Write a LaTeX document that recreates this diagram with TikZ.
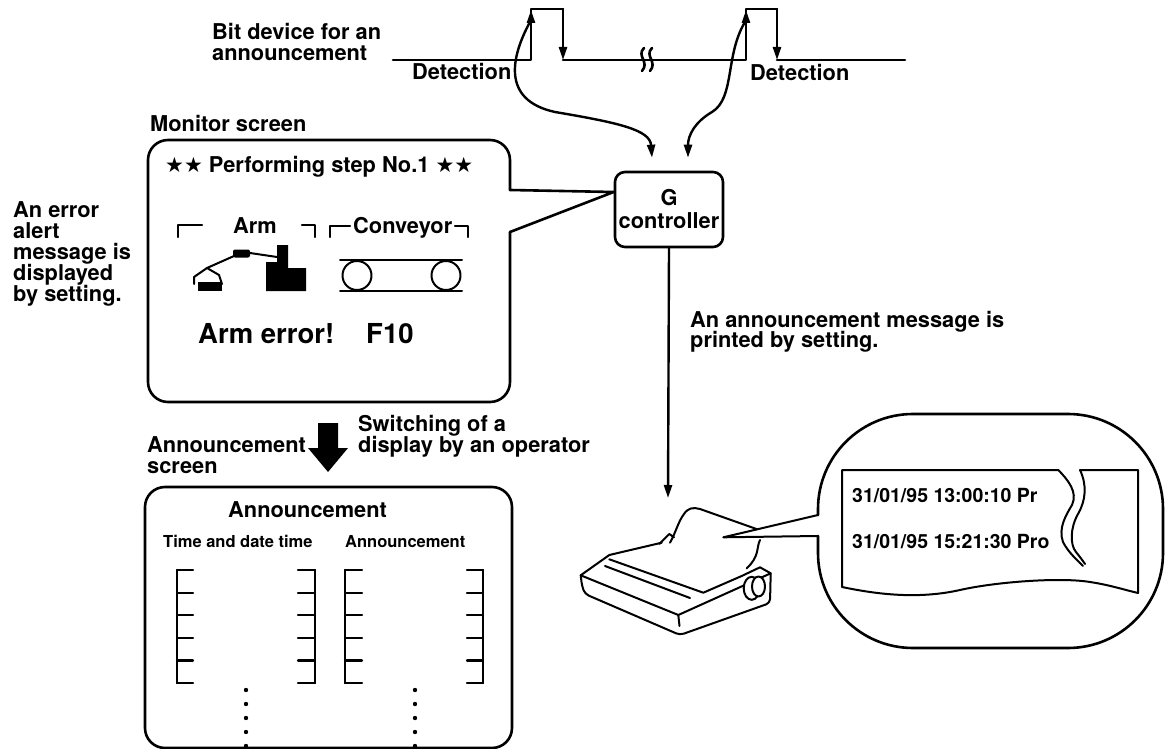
\documentclass[tikz,border=0pt]{standalone}
\usepackage{fontspec}
\setmainfont{TeX Gyre Heros}
\newfontfamily\starfont{DejaVu Sans}
\usetikzlibrary{arrows.meta,calc}
\newcommand\lblfont{\fontsize{21.8}{23}\selectfont\bfseries}
\newcommand\bigfont{\fontsize{27.5}{28}\selectfont\bfseries}
\newcommand\smallfont{\fontsize{16.5}{17}\selectfont\bfseries}
\newcommand\paperfont{\fontsize{19.5}{20}\selectfont\bfseries}
\newcommand\twostars{{\starfont\fontsize{21}{21}\selectfont ★★}}

\begin{document}
\begin{tikzpicture}[x=1pt,y=-1pt,line join=round,line cap=round,
  txt/.style={anchor=base west,inner sep=0pt,font=\lblfont},
  outline/.style={line width=2.6pt},
  thinline/.style={line width=2pt},
  arr/.style={-{Triangle[length=13pt,width=8pt]},line width=2.4pt},
  bracket/.style={line width=2.2pt},
  ]
\path[use as bounding box] (0,0) rectangle (1165,749);

% ---------- bit device timing line ----------
\node[txt] (bitA) at (212,40) {Bit device for an};
\node[txt] (bitB) at (212,61) {announcement};
\draw[outline] (393,60) -- (531,60) -- (531,9) -- (563,9);
\draw[arr] (531,45) -- (531,10);
\draw[arr] (563,9) -- (563,60);
\draw[outline] (563,60) -- (746,60) -- (746,9) -- (777,9);
\draw[arr] (746,45) -- (746,10);
\draw[arr] (777,9) -- (777,60);
\draw[outline] (777,60) -- (905,60);
% break mark
\draw[outline] (644,48) .. controls (636,56) and (650,62) .. (642,71);
\draw[outline] (652,48) .. controls (644,56) and (658,62) .. (650,71);
\node[txt] (det1) at (412,80) {Detection};
\node[txt] (det2) at (750,81) {Detection};

% ---------- G controller ----------
\node[draw,outline,rounded corners=10pt,minimum width=108pt,minimum height=75pt,
      inner sep=0pt,align=center,font=\lblfont] (gc) at (669,209.5) {G\\controller};
\coordinate (g1) at ($(gc.north)+(-17,-13)$);
\coordinate (g2) at ($(gc.north)+(19,-13)$);
\coordinate (e1) at (530,22);
\coordinate (e2) at (745,22);
\draw[arr] (e1) .. controls (512,55) and (500,100) .. (555,112)
               .. controls (620,123) and (650,130) .. (g1);
\draw[arr] (e2) .. controls (725,55) and (735,98) .. (712,112)
               .. controls (695,122) and (688,135) .. (g2);

% ---------- monitor screen ----------
\node[txt] (monlbl) at (150,132) {Monitor screen};
\coordinate (mt1) at (510,190);
\coordinate (mt2) at (510,232);
\coordinate (gin) at ($(gc.west)+(0,-17.5)$);
\draw[outline,rounded corners=20pt] (mt2) -- (510,402) -- (148,402) -- (148,140) -- (510,140) -- (mt1);
\draw[outline] (mt1) -- (gin) -- (mt2);
\node[txt] (title) at (165,173) {\twostars{} Performing step No.1 \twostars};

% arm and conveyor headings
\draw[bracket] (178,237) -- (178,225) -- (202,225);
\node[txt] (armlbl) at (233,233) {Arm};
\draw[bracket] (302,225) -- (315,225) -- (315,237);
\draw[bracket] (330,237) -- (330,226) -- (350,226);
\node[txt] (convlbl) at (353,233) {Conveyor};
\draw[bracket] (455,226) -- (468,226) -- (468,237);

% robot arm icon
\fill (277,245) -- (288,245) -- (288,268) -- (306,268) -- (306,291) -- (266,291) -- (266,262) -- (277,262) -- cycle;
\fill[rounded corners=2pt] (233,249.5) rectangle (250,257.5);
\draw[thinline] (250,253) -- (277,257);
\draw[thinline] (234,256) -- (207,268);
\draw[thinline] (194,284) -- (194,277) -- (207,268) -- (219,275) -- (222,284);
\fill (198,282) rectangle (222,291);

% conveyor icon
\draw[thinline] (340,260) -- (462,260);
\draw[thinline] (340,291) -- (462,291);
\draw[thinline] (357,275.5) circle [radius=14.5];
\draw[thinline] (446,275.5) circle [radius=14.5];

\node[anchor=base west,inner sep=0pt,font=\bigfont] (armerr) at (198,343) {Arm error!};
\node[anchor=base west,inner sep=0pt,font=\bigfont] (f10) at (366,343) {F10};

% left note
\node[txt] (n1) at (13,217) {An error};
\node[txt] (n2) at (13,238) {alert};
\node[txt] (n3) at (13,259) {message is};
\node[txt] (n4) at (13,280) {displayed};
\node[txt] (n5) at (13,301) {by setting.};

% ---------- switching to the announcement screen ----------
\fill (318,423) -- (338,423) -- (338,448) -- (348,448) -- (328,472) -- (308,448) -- (318,448) -- cycle;
\node[txt] (sw1) at (358,431) {Switching of a};
\node[txt] (sw2) at (358,452) {display by an operator};
\node[txt] (al1) at (147,452) {Announcement};
\node[txt] (al2) at (147,473) {screen};

\node[draw,outline,rounded corners=20pt,minimum width=367pt,minimum height=261pt,inner sep=0pt]
      (annbox) at (328.5,617.5) {};
\node[txt] (anntitle) at (228,517) {Announcement};
\node[anchor=base west,inner sep=0pt,font=\smallfont] (hd1) at (163,547) {Time and date time};
\node[anchor=base west,inner sep=0pt,font=\smallfont] (hd2) at (345,547) {Announcement};

% bracket columns
\foreach \yy in {570,592.6,615.2,637.8,660.4,683} {
  \draw[bracket] (177,\yy) -- (193,\yy);
  \draw[bracket] (298,\yy) -- (315,\yy);
  \draw[bracket] (345,\yy) -- (362,\yy);
  \draw[bracket] (467,\yy) -- (483,\yy);
}
\draw[bracket] (177,570) -- (177,683);
\draw[bracket] (315,570) -- (315,683);
\draw[bracket] (345,570) -- (345,683);
\draw[bracket] (483,570) -- (483,683);
\foreach \yy in {690,704,718,732,746} {
  \fill (246,\yy) circle [radius=2.2];
  \fill (415,\yy) circle [radius=2.2];
}

% ---------- printing ----------
\coordinate (ptop) at (668,498);
\draw[arr] (gc.south) -- (ptop);
\node[txt] (pr1) at (690,327) {An announcement message is};
\node[txt] (pr2) at (690,347) {printed by setting.};

% printer
\begin{scope}[thinline]
  \draw (661.7,542.7) -- (609.3,555) -- (580.7,575.3) -- (678.3,615) -- (770.7,573.3) -- (760,567.3) -- (741.7,576);
  \draw[rounded corners=4pt] (580.7,575.3) -- (582,586) -- (585,594) -- (680,635) -- (770,603) -- (770.7,573.3);
  \draw (678.3,615) -- (679.5,626);
  \draw (609.3,559.3) -- (703.3,592.7) -- (741.7,576);
  \draw (605,566) -- (690,598);
  \draw[fill=white] (751.7,588.3) ellipse [x radius=8,y radius=11.5];
  \draw[fill=white] (758.5,586.5) ellipse [x radius=6.5,y radius=10];
  \draw (659.3,544) -- (669.3,534) -- (674,537.3);
  \draw (670,542.7) .. controls (676,532) and (678,522) .. (684,514)
        .. controls (688,508) and (693,507) .. (700,509) -- (757.3,529.3);
  \draw (760,540) .. controls (756,548) and (760,556) .. (746.7,568.3);
\end{scope}

% print-out callout
\coordinate (ptip) at (723.3,537.3);
\coordinate (cb1) at (818,515);
\coordinate (cb2) at (818,536);
\draw[outline,rounded corners=95pt] (cb2) -- (818,648) -- (1163,648) -- (1163,414) -- (818,414) -- (cb1);
\draw[thinline] (cb1) -- (ptip) -- (cb2);

% torn print-out
\begin{scope}[thinline]
  \draw (1058.3,470) -- (842,470) -- (842,587)
        .. controls (880,595) and (920,599) .. (960,590)
        .. controls (995,582) and (1060,577) .. (1090,582)
        .. controls (1110,585) and (1125,590) .. (1138,593) -- (1138,470) -- (1080,470);
  \draw (1058.3,470) .. controls (1068,480) and (1078,492) .. (1072,505)
        .. controls (1066,515) and (1058,528) .. (1063,542)
        .. controls (1068,552) and (1077,560) .. (1083,566);
  \draw (1080,470) .. controls (1087,485) and (1086,500) .. (1078,514)
        .. controls (1070,528) and (1070,545) .. (1076,552)
        .. controls (1080,557) and (1083,561) .. (1085,564);
\end{scope}
\node[anchor=base west,inner sep=0pt,font=\paperfont] (l1) at (852,502) {31/01/95 13:00:10 Pr};
\node[anchor=base west,inner sep=0pt,font=\paperfont] (l2) at (852,548) {31/01/95 15:21:30 Pro};
\end{tikzpicture}
\end{document}
